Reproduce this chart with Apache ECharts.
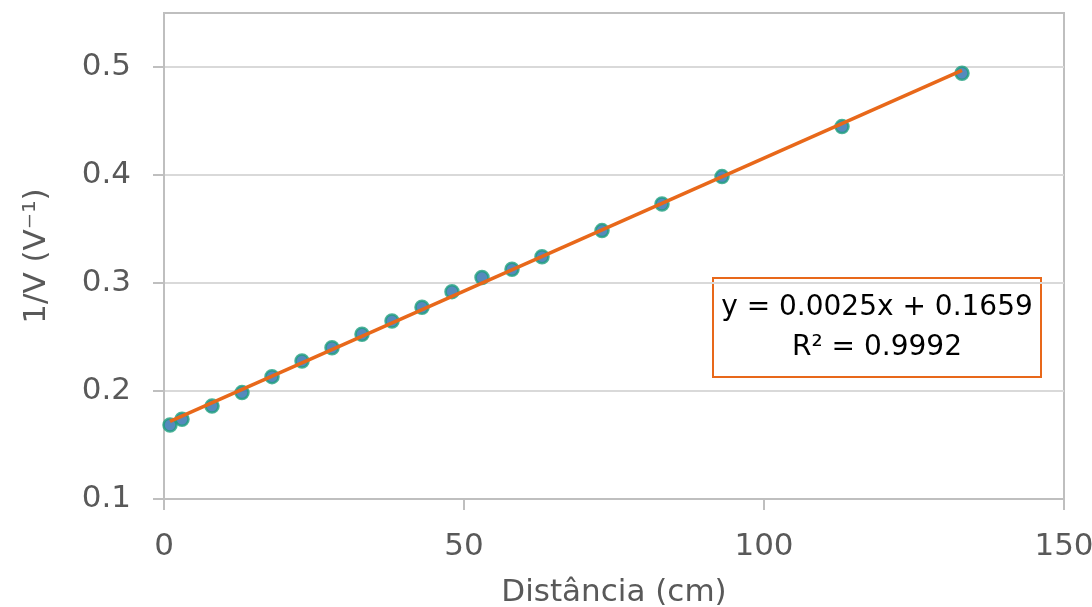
<!DOCTYPE html>
<html>
<head>
<meta charset="utf-8">
<script src="https://cdn.jsdelivr.net/npm/echarts@6/dist/echarts.min.js"></script>
<style>
  html, body { margin: 0; padding: 0; background: #fff; }
  #chart { width: 1092px; height: 607px; }
</style>
</head>
<body>
<div id="chart"></div>
<script>
	// distância (cm) e 1/V
	var distancia = [1, 3, 8, 13, 18, 23, 28, 33, 38, 43, 48, 53, 58, 63, 73, 83, 93, 113, 133];
	var invV = [0.1685, 0.1738, 0.186, 0.1985, 0.2133, 0.2278, 0.2401, 0.2525, 0.2648, 0.2775,
		0.292, 0.305, 0.3127, 0.3244, 0.3485, 0.3732, 0.3985, 0.4448, 0.4942];
	var xTicks = [0, 50, 100, 150];
	var yTicks = [0.1, 0.2, 0.3, 0.4, 0.5];
	var trendText = ['y = 0.0025x + 0.1659', 'R² = 0.9992'];

	var axisGray = '#bfbfbf';
	var textGray = '#595959';
	var font = 'DejaVu Sans';

	// linha de tendência (mínimos quadrados)
	var n = distancia.length, sx = 0, sy = 0, sxx = 0, sxy = 0;
	distancia.forEach(function(x, i){
		sx += x; sy += invV[i]; sxx += x * x; sxy += x * invV[i];
	});
	var slope = (n * sxy - sx * sy) / (n * sxx - sx * sx);
	var icpt = (sy - slope * sx) / n;
	var xMin = Math.min.apply(null, distancia), xMax = Math.max.apply(null, distancia);
	var trend = [[xMin, icpt + slope * xMin], [xMax, icpt + slope * xMax]];

	var points = distancia.map(function(x, i){ return [x, invV[i]]; });

	var chart = echarts.init(document.getElementById('chart'));
	chart.setOption({
		animation: false,
		backgroundColor: '#fff',
		grid: {
			left: 164, right: 28, top: 13, bottom: 108,
			containLabel: false,
			outerBoundsMode: 'none',
			show: true,
			borderColor: axisGray,
			borderWidth: 2
		},
		xAxis: {
			type: 'value',
			min: 0, max: 150, interval: 50,
			name: 'Distância (cm)',
			nameLocation: 'middle',
			nameGap: 78,
			nameTextStyle: {color: textGray, fontSize: 31, fontFamily: font},
			axisLine: {show: true, lineStyle: {color: axisGray, width: 2}},
			axisTick: {show: true, length: 11, lineStyle: {color: axisGray, width: 2}},
			axisLabel: {
				color: textGray, fontSize: 31, fontFamily: font, margin: 32,
				customValues: xTicks
			},
			splitLine: {show: false}
		},
		yAxis: {
			type: 'value',
			min: 0.1, max: 0.55, interval: 0.1,
			name: '1/V (V⁻¹)',
			nameLocation: 'middle',
			nameGap: 112,
			nameTextStyle: {color: textGray, fontSize: 31, fontFamily: font},
			axisLine: {show: true, lineStyle: {color: axisGray, width: 2}},
			axisTick: {show: true, length: 11, lineStyle: {color: axisGray, width: 2}, customValues: yTicks},
			axisLabel: {
				color: textGray, fontSize: 31, fontFamily: font, margin: 33,
				customValues: yTicks,
				formatter: function(v){ return v.toFixed(1); }
			},
			splitLine: {show: true, lineStyle: {color: '#d9d9d9', width: 2}}
		},
		graphic: [{
			type: 'group',
			left: 712, top: 277,
			children: [{
				type: 'rect',
				shape: {x: 0, y: 0, width: 328, height: 99},
				style: {fill: '#fff', stroke: '#e8681a', lineWidth: 2}
			}, {
				type: 'text',
				x: 164, y: 50,
				style: {
					text: trendText.join('\n'),
					fill: '#000',
					font: '28px "DejaVu Sans"',
					lineHeight: 40,
					align: 'center',
					verticalAlign: 'middle'
				}
			}]
		}],
		series: [{
			type: 'scatter',
			data: points,
			symbol: 'circle',
			symbolSize: 13,
			itemStyle: {color: '#2a6dac', borderColor: '#1e9f7e', borderWidth: 2.5},
			z: 2
		}, {
			type: 'line',
			data: trend,
			showSymbol: false,
			symbol: 'none',
			lineStyle: {color: '#e8681a', width: 3.5},
			z: 3
		}]
	});
</script>
</body>
</html>
